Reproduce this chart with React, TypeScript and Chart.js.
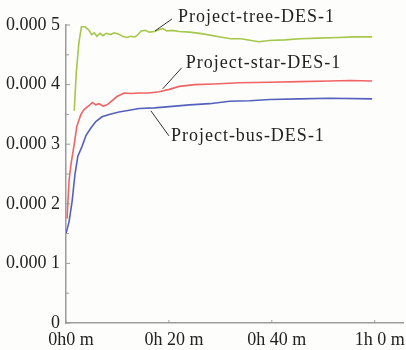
import React, { useEffect, useRef } from "react";
import { Chart, registerables } from "chart.js";

Chart.register(...registerables);

// ---- Data (x in minutes, y in value) ----
const treeMinutes = [1.6, 2.0, 2.5, 3.0, 3.7, 4.4, 5.0, 5.5, 6.0, 6.6, 7.2, 7.8, 8.6, 9.4, 10.2, 11.0, 11.8, 12.6, 13.4, 14.0, 14.6, 15.4, 16.2, 17.2, 18.0, 18.8, 19.6, 20.6, 22, 24, 26, 28, 30, 32, 34, 36, 37.5, 39.5, 42.5, 45.5, 49, 53, 56, 59.5];
const treeValues = [0.000356, 0.00042, 0.00047, 0.000497, 0.000497, 0.000492, 0.000484, 0.000487, 0.000481, 0.000486, 0.000482, 0.000486, 0.000484, 0.000487, 0.000485, 0.000481, 0.000479, 0.000481, 0.00048, 0.000484, 0.00049, 0.000491, 0.000488, 0.000489, 0.000492, 0.000494, 0.00049, 0.000491, 0.000489, 0.000488, 0.000486, 0.000483, 0.00048, 0.000477, 0.000477, 0.000474, 0.000472, 0.000474, 0.000475, 0.000477, 0.000478, 0.000479, 0.00048, 0.00048];

const starMinutes = [0.2, 0.6, 1.0, 1.6, 2.1, 2.9, 3.5, 4.5, 5.1, 5.8, 6.4, 7.2, 8.0, 8.8, 9.9, 11.3, 12.7, 14.2, 16.2, 18.1, 20.1, 22, 25, 28.8, 33.7, 39.6, 45.4, 51.3, 55.2, 59.5];
const starValues = [0.000175, 0.00024, 0.000268, 0.0003, 0.00033, 0.00035, 0.000358, 0.000365, 0.00037, 0.000366, 0.000368, 0.000364, 0.000366, 0.000372, 0.00038, 0.000386, 0.000385, 0.000386, 0.000386, 0.000388, 0.000392, 0.000397, 0.0004, 0.000401, 0.000403, 0.000404, 0.000405, 0.000406, 0.000407, 0.000406];

const busMinutes = [0, 0.6, 1.2, 1.75, 2.3, 3.1, 3.9, 4.9, 5.8, 7.0, 8.4, 10.3, 12.3, 14.2, 17.2, 20.1, 24, 27.9, 31.8, 35.7, 39.6, 45.4, 51.3, 59.5];
const busValues = [0.00015, 0.00017, 0.000205, 0.00025, 0.00028, 0.000296, 0.000315, 0.000328, 0.000338, 0.000346, 0.00035, 0.000354, 0.000357, 0.00036, 0.000361, 0.000363, 0.000366, 0.000368, 0.000372, 0.000373, 0.000375, 0.000376, 0.000377, 0.000376];

const seriesNames = ["Project-tree-DES-1", "Project-star-DES-1", "Project-bus-DES-1"];

// ---- Axis ticks ----
const xTickValues = [0, 20, 40, 60];
const xTickLabels = ["0h0 m", "0h 20 m", "0h 40 m", "1h 0 m"];
const yTickValues = [0, 0.0001, 0.0002, 0.0003, 0.0004, 0.0005];
const yTickLabels = ["0", "0.000 1", "0.000 2", "0.000 3", "0.000 4", "0.000 5"];

// ---- Annotation anchors (data coords) ----
const annotationMinutes = [17.3, 18.8, 16.5];
const annotationValues = [0.00049, 0.000393, 0.000356];

const FONT = "'Liberation Serif', 'DejaVu Serif', serif";
const COLORS = ["#a5c74c", "#f06464", "#5560bd"];
const AXIS_COLOR = "#9c9c9c";

// leader line ends / text offsets (pixels, styling)
const leaderStyle = [
  { dx: 17, dy: -12, tx: 6, ty: -2 },
  { dx: 19, dy: -21, tx: 4, ty: -5 },
  { dx: 18, dy: 25, tx: 2, ty: 0 },
];

const toPoints = (xs: number[], ys: number[]) => xs.map((x, i) => ({ x, y: ys[i] }));

const bgPlugin = {
  id: "bg",
  beforeDraw(chart: any) {
    const ctx = chart.ctx;
    ctx.save();
    ctx.fillStyle = "#fdfdfc";
    ctx.fillRect(0, 0, chart.width, chart.height);
    ctx.restore();
  },
};

const ticksPlugin = {
  id: "innerTicks",
  afterDraw(chart: any) {
    const ctx = chart.ctx;
    const xs = chart.scales.x;
    const ys = chart.scales.y;
    ctx.save();
    ctx.strokeStyle = AXIS_COLOR;
    ctx.lineWidth = 1;
    const x0 = ys.right;
    ys.ticks.forEach((t: any, i: number) => {
      const py = ys.getPixelForValue(t.value);
      ctx.beginPath();
      ctx.moveTo(x0, py);
      ctx.lineTo(x0 + 4, py);
      ctx.stroke();
      if (i < ys.ticks.length - 1) {
        const pm = ys.getPixelForValue((t.value + ys.ticks[i + 1].value) / 2);
        ctx.beginPath();
        ctx.moveTo(x0, pm);
        ctx.lineTo(x0 + 3, pm);
        ctx.stroke();
      }
    });
    const y0 = xs.top;
    xs.ticks.forEach((t: any) => {
      const px = xs.getPixelForValue(t.value);
      ctx.beginPath();
      ctx.moveTo(px, y0);
      ctx.lineTo(px, y0 - 3);
      ctx.stroke();
    });
    ctx.restore();
  },
};

const annotationPlugin = {
  id: "annotations",
  afterDatasetsDraw(chart: any) {
    const ctx = chart.ctx;
    const xs = chart.scales.x;
    const ys = chart.scales.y;
    ctx.save();
    ctx.strokeStyle = "#333";
    ctx.lineWidth = 1;
    ctx.fillStyle = "#222";
    ctx.font = `18px ${FONT}`;
    (ctx as any).letterSpacing = "1px";
    ctx.textAlign = "left";
    ctx.textBaseline = "middle";
    seriesNames.forEach((name, i) => {
      const ax = xs.getPixelForValue(annotationMinutes[i]);
      const ay = ys.getPixelForValue(annotationValues[i]);
      const s = leaderStyle[i];
      ctx.beginPath();
      ctx.moveTo(ax, ay);
      ctx.lineTo(ax + s.dx, ay + s.dy);
      ctx.stroke();
      ctx.fillText(name, ax + s.dx + s.tx, ay + s.dy + s.ty);
    });
    (ctx as any).letterSpacing = "0px";
    ctx.restore();
  },
};

export default function App() {
  const ref = useRef<HTMLCanvasElement | null>(null);
  useEffect(() => {
    document.body.style.margin = "0";
    if (!ref.current) return;
    const chart = new Chart(ref.current, {
      type: "line",
      data: {
        datasets: [
          { label: seriesNames[0], data: toPoints(treeMinutes, treeValues), borderColor: COLORS[0], borderWidth: 1.6, pointRadius: 0, tension: 0, fill: false },
          { label: seriesNames[1], data: toPoints(starMinutes, starValues), borderColor: COLORS[1], borderWidth: 1.6, pointRadius: 0, tension: 0, fill: false },
          { label: seriesNames[2], data: toPoints(busMinutes, busValues), borderColor: COLORS[2], borderWidth: 1.6, pointRadius: 0, tension: 0, fill: false },
        ],
      },
      options: {
        animation: false,
        responsive: false,
        devicePixelRatio: 1,
        layout: { padding: { top: 25, right: 3, left: 0, bottom: 0 } },
        plugins: { legend: { display: false }, tooltip: { enabled: false } },
        scales: {
          x: {
            type: "linear",
            min: 0,
            max: 65.5,
            grid: { display: false, drawTicks: false, tickLength: 0 },
            border: { display: true, color: AXIS_COLOR, width: 1.5 },
            afterFit: (s: any) => { s.height = 27; },
            afterBuildTicks: (s: any) => {
              s.ticks = xTickValues.map((v) => ({ value: v }));
            },
            ticks: {
              autoSkip: false,
              maxRotation: 0,
              padding: 6,
              labelOffset: 5,
              color: "#222",
              font: { family: FONT, size: 18 },
              callback: (v: any) => {
                const i = xTickValues.indexOf(Number(v));
                return i >= 0 ? xTickLabels[i] : null;
              },
            },
          },
          y: {
            type: "linear",
            min: 0,
            max: 0.0005,
            grid: { display: false, drawTicks: false, tickLength: 0 },
            border: { display: true, color: AXIS_COLOR, width: 1.5 },
            afterFit: (s: any) => { s.width = 66; },
            afterBuildTicks: (s: any) => {
              s.ticks = yTickValues.map((v) => ({ value: v }));
            },
            ticks: {
              padding: 6,
              color: "#222",
              font: { family: FONT, size: 18 },
              callback: (v: any) => {
                const i = yTickValues.findIndex((t) => Math.abs(t - Number(v)) < 1e-9);
                return i >= 0 ? yTickLabels[i] : null;
              },
            },
          },
        },
      },
      plugins: [bgPlugin, ticksPlugin, annotationPlugin],
    });
    return () => chart.destroy();
  }, []);
  return (
    <div style={{ position: "absolute", left: 0, top: 0, width: 406, height: 350 }}>
      <canvas ref={ref} width={406} height={350} style={{ display: "block" }} />
    </div>
  );
}
